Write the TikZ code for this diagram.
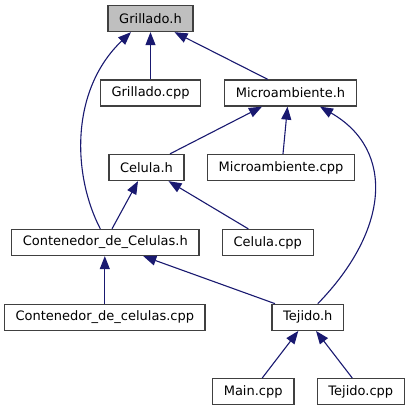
\documentclass[tikz,border=0pt]{standalone}
\usepackage{fontspec}
\setmainfont{DejaVu Sans}
\usetikzlibrary{arrows.meta}
\definecolor{edgeblue}{RGB}{25,25,112}
\definecolor{headgray}{RGB}{191,191,191}
\definecolor{boxline}{RGB}{64,64,64}
\begin{document}
\begin{tikzpicture}[x=1pt,y=-1pt,
  box/.style={draw=boxline,line width=1.3pt,fill=white,minimum height=26pt,inner sep=0pt,font=\fontsize{13pt}{15pt}\selectfont},
  dep/.style={draw=edgeblue,line width=1.1pt,-{Triangle[length=13pt,width=10pt]}}]
\useasboundingbox (0,0) rectangle (410,411);
\node[box,fill=headgray,minimum width=85pt] (gh) at (150.5,18.5) {Grillado.h};
\node[box,minimum width=100.5pt] (gcpp) at (150.5,93) {Grillado.cpp};
\node[box,minimum width=132.5pt] (mh) at (290.5,93) {Microambiente.h};
\node[box,minimum width=75pt] (ch) at (146.5,167.5) {Celula.h};
\node[box,minimum width=146.5pt] (mcpp) at (281,167.5) {Microambiente.cpp};
\node[box,minimum width=187.3pt] (cdch) at (105.3,242.5) {Contenedor\_de\_Celulas.h};
\node[box,minimum width=91pt] (ccpp) at (267.8,242.5) {Celula.cpp};
\node[box,minimum width=200.3pt] (cdccpp) at (104.8,317.3) {Contenedor\_de\_celulas.cpp};
\node[box,minimum width=71.7pt] (th) at (307.8,317.3) {Tejido.h};
\node[box,minimum width=81.7pt] (main) at (253.2,391.7) {Main.cpp};
\node[box,minimum width=87pt] (tcpp) at (360.8,391.7) {Tejido.cpp};
\draw[dep] (gcpp.north) -- (gh.south);
\draw[dep] ([xshift=-22.8pt]mh.north) -- ([xshift=24pt]gh.south);
\draw[dep] ([xshift=-5pt]cdch.north) .. controls +(-28,-54) and +(-61,58) .. ([xshift=-19.5pt]gh.south);
\draw[dep] ([xshift=23.5pt]ch.north) -- ([xshift=-28.5pt]mh.south);
\draw[dep] ([xshift=2pt]mcpp.north) -- ([xshift=-3pt]mh.south);
\draw[dep] ([xshift=10pt]th.north) .. controls +(72,-74) and +(75,43) .. ([xshift=29.5pt]mh.south);
\draw[dep] ([xshift=6.7pt]cdch.north) -- ([xshift=-8.5pt]ch.south);
\draw[dep] ([xshift=-19.5pt]ccpp.north) -- ([xshift=22pt]ch.south);
\draw[dep] (cdccpp.north) -- (cdccpp.north |- cdch.south);
\draw[dep] ([xshift=-32.8pt]th.north) -- ([xshift=38pt]cdch.south);
\draw[dep] ([xshift=9pt]main.north) -- ([xshift=-9.5pt]th.south);
\draw[dep] ([xshift=-8.5pt]tcpp.north) -- ([xshift=8.2pt]th.south);
\end{tikzpicture}
\end{document}
